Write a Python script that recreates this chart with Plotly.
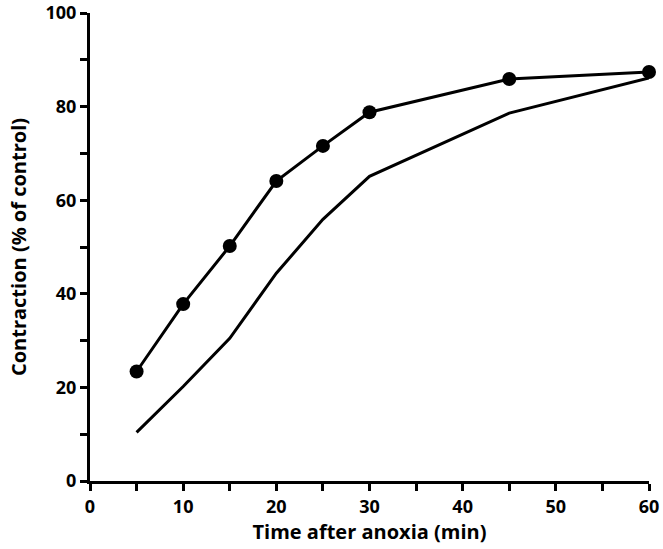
import plotly.graph_objects as go

time_min = [5, 10, 15, 20, 25, 30, 45, 60]
contraction_dots = [23.4, 37.8, 50.2, 64.1, 71.6, 78.8, 85.9, 87.4]
contraction_line = [10.4, 20.2, 30.5, 44.4, 55.9, 65.1, 78.6, 86.1]

x_ticks = [0, 10, 20, 30, 40, 50, 60]
y_ticks = [0, 20, 40, 60, 80, 100]

font_family = "Open Sans"

fig = go.Figure()
fig.add_trace(go.Scatter(
    x=time_min, y=contraction_line, mode="lines",
    line=dict(color="black", width=3), showlegend=False, cliponaxis=False,
))
fig.add_trace(go.Scatter(
    x=time_min, y=contraction_dots, mode="lines+markers",
    line=dict(color="black", width=3),
    marker=dict(color="black", size=14, symbol="circle"),
    showlegend=False, cliponaxis=False,
))

fig.update_layout(
    width=663, height=549,
    margin=dict(l=90, r=14, t=13, b=68, autoexpand=False),
    paper_bgcolor="white", plot_bgcolor="white",
    font=dict(family=font_family, color="black", size=18),
    xaxis=dict(
        range=[0, 60], tickvals=x_ticks, ticktext=[str(v) for v in x_ticks],
        showline=True, linecolor="black", linewidth=3, automargin=False,
        ticks="outside", ticklen=7, tickwidth=3, tickcolor="black",
        minor=dict(dtick=5, tick0=0, ticks="outside", ticklen=7, tickwidth=3, tickcolor="black"),
        showgrid=False, zeroline=False,
        tickfont=dict(family=font_family, size=18, color="black", weight="bold"),
        title=dict(text="<b>Time after anoxia (min)</b>", standoff=0,
                   font=dict(family=font_family, size=20, color="black")),
    ),
    yaxis=dict(
        range=[0, 100], tickvals=y_ticks, ticktext=[str(v) for v in y_ticks],
        showline=True, linecolor="black", linewidth=3, automargin=False,
        ticks="outside", ticklen=7, tickwidth=3, tickcolor="black",
        minor=dict(dtick=10, tick0=0, ticks="outside", ticklen=7, tickwidth=3, tickcolor="black"),
        showgrid=False, zeroline=False,
        tickfont=dict(family=font_family, size=18, color="black", weight="bold"),
        title=dict(text="<b>Contraction (% of control)</b>", standoff=14,
                   font=dict(family=font_family, size=20, color="black")),
    ),
)

fig.write_html("out.html", config={"displayModeBar": False},
               post_script="document.body.style.margin='0';")
